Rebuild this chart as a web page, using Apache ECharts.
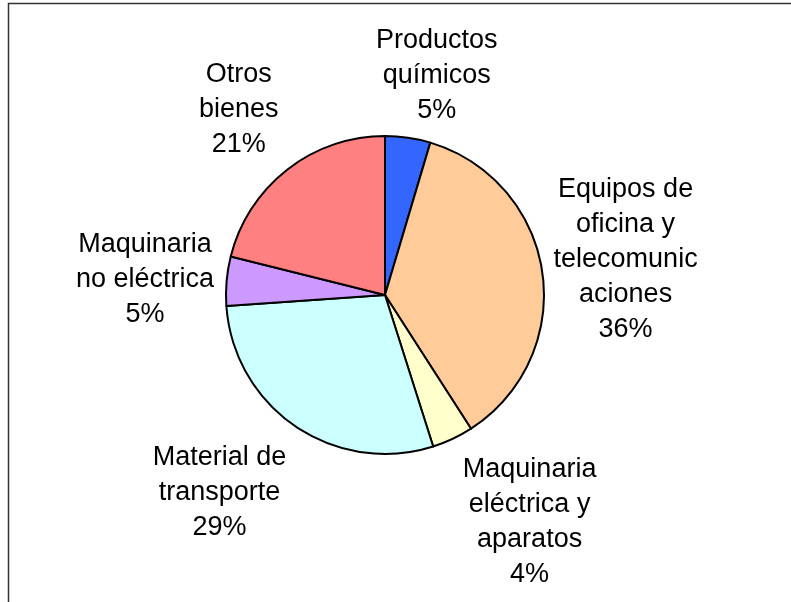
<!DOCTYPE html>
<html>
<head>
<meta charset="utf-8">
<script src="https://cdn.jsdelivr.net/npm/echarts@6/dist/echarts.min.js"></script>
<style>
html,body{margin:0;padding:0;background:#fff;}
#chart{width:791px;height:602px;}
</style>
</head>
<body>
<div id="chart"></div>
<script>
// Data
var categories = [
  'Productos\nquímicos',
  'Equipos de\noficina y\ntelecomunic\naciones',
  'Maquinaria\neléctrica y\naparatos',
  'Material de\ntransporte',
  'Maquinaria\nno eléctrica',
  'Otros\nbienes'
];
var values = [4.6, 36.3, 4.2, 28.8, 5.0, 21.1];
var colors = ['#3366FF', '#FFCC99', '#FFFFCC', '#CCFFFF', '#CC99FF', '#FF8080'];

// Label nudges (layout only)
var labelOffsets = [[17, 19], [2, -1], [42, 9], [-30, -2], [0, 6], [2, 5]];

var center = [385, 295];

var pieData = categories.map(function (c, i) {
  return { name: c, value: values[i], itemStyle: { color: colors[i] } };
});
var labelData = categories.map(function (c, i) {
  return { name: c, value: values[i], label: { offset: labelOffsets[i] } };
});

var chart = echarts.init(document.getElementById('chart'), null, { renderer: 'canvas' });
chart.setOption({
  animation: false,
  backgroundColor: '#ffffff',
  graphic: [{
    type: 'rect',
    shape: { x: 8.5, y: 3.5, width: 900, height: 900 },
    style: { fill: 'none', stroke: '#333333', lineWidth: 1.5 },
    silent: true
  }],
  series: [
    {
      type: 'pie',
      center: center,
      radius: 159,
      startAngle: 90,
      clockwise: true,
      silent: true,
      label: { show: false },
      labelLine: { show: false },
      itemStyle: { borderColor: '#000000', borderWidth: 2 },
      data: pieData
    },
    {
      type: 'pie',
      center: center,
      radius: [200, 276],
      startAngle: 90,
      clockwise: true,
      silent: true,
      percentPrecision: 0,
      itemStyle: { color: 'rgba(0,0,0,0)', borderWidth: 0 },
      labelLine: { show: false },
      label: {
        show: true,
        position: 'inside',
        rotate: 0,
        formatter: '{b}\n{d}%',
        fontFamily: 'Liberation Sans, Arial, sans-serif',
        fontSize: 27,
        lineHeight: 35,
        color: '#000000',
        align: 'center',
        verticalAlign: 'middle'
      },
      data: labelData
    }
  ]
});
</script>
</body>
</html>
